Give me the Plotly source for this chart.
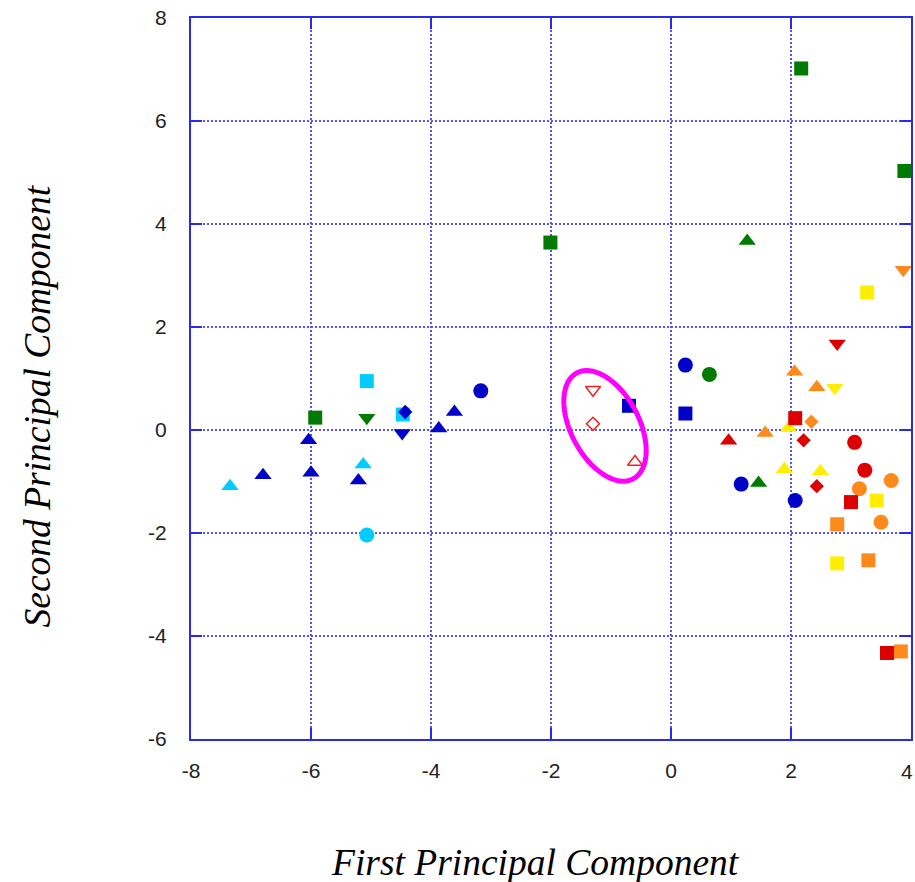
import numpy as np
import plotly.graph_objects as go

# ---------------- data ----------------
# Blue
blue_circle_x = [0.24, 1.17, 2.07, -3.17]
blue_circle_y = [1.26, -1.05, -1.37, 0.76]
blue_square_x = [0.24, -0.70]
blue_square_y = [0.32, 0.47]
blue_tri_x = [-3.61, -3.87, -6.04, -6.00, -5.21, -6.80]
blue_tri_y = [0.35, 0.03, -0.20, -0.83, -0.98, -0.88]
blue_dtri_x = [-4.48]
blue_dtri_y = [-0.06]
blue_diamond_x = [-4.43]
blue_diamond_y = [0.35]
# Cyan
cyan_square_x = [-4.47, -5.07]
cyan_square_y = [0.30, 0.95]
cyan_tri_x = [-5.13, -7.35]
cyan_tri_y = [-0.67, -1.09]
cyan_circle_x = [-5.07]
cyan_circle_y = [-2.04]
# Green
green_square_x = [2.17, 3.89, -2.01, -5.93]
green_square_y = [7.02, 5.03, 3.64, 0.24]
green_tri_x = [1.27, 1.46]
green_tri_y = [3.67, -1.03]
green_circle_x = [0.64]
green_circle_y = [1.08]
green_dtri_x = [-5.07]
green_dtri_y = [0.24]
# Orange
orange_dtri_x = [3.87]
orange_dtri_y = [3.11]
orange_tri_x = [2.06, 2.43, 1.57]
orange_tri_y = [1.13, 0.83, -0.06]
orange_diamond_x = [2.34]
orange_diamond_y = [0.16]
orange_circle_x = [3.67, 3.14, 3.50]
orange_circle_y = [-0.98, -1.14, -1.79]
orange_square_x = [2.77, 3.29, 3.83]
orange_square_y = [-1.83, -2.53, -4.30]
# Yellow
yellow_square_x = [3.27, 3.43, 2.77]
yellow_square_y = [2.67, -1.37, -2.59]
yellow_dtri_x = [2.73]
yellow_dtri_y = [0.82]
yellow_tri_x = [1.96, 1.89, 2.49]
yellow_tri_y = [0.04, -0.76, -0.80]
# Red
red_dtri_x = [2.77]
red_dtri_y = [1.68]
red_square_x = [2.07, 3.00, 3.60]
red_square_y = [0.23, -1.40, -4.33]
red_tri_x = [0.96]
red_tri_y = [-0.21]
red_diamond_x = [2.21, 2.43]
red_diamond_y = [-0.20, -1.09]
red_circle_x = [3.06, 3.23]
red_circle_y = [-0.24, -0.78]
# Red open markers (highlighted group)
open_dtri_x = [-1.30]
open_dtri_y = [0.78]
open_diamond_x = [-1.30]
open_diamond_y = [0.12]
open_tri_x = [-0.60]
open_tri_y = [-0.62]

x_ticks = [-8, -6, -4, -2, 0, 2, 4]
x_tick_text = ["-8", "-6", "-4", "-2", "0", "2", ""]
x_last_label = "4"
y_ticks = [-6, -4, -2, 0, 2, 4, 6, 8]
y_tick_text = ["-6", "-4", "-2", "0", "2", "4", "6", "8"]

# ---------------- style ----------------
BLUE = "#0000c8"
CYAN = "#00ccff"
GREEN = "#007a00"
ORANGE = "#ff8a1c"
YELLOW = "#ffee00"
RED = "#dd0000"
AXIS = "#2a2aee"
GRID = "#5555f2"

SIZES = {"circle": 15, "square": 14, "triangle-up": 15, "triangle-down": 15, "diamond": 11}

fig = go.Figure()


def add(xs, ys, color, symbol):
    fig.add_trace(go.Scatter(
        x=xs, y=ys, mode="markers", showlegend=False, hoverinfo="x+y",
        marker=dict(symbol=symbol, size=SIZES[symbol], color=color,
                    line=dict(width=0)),
    ))


def add_open(xs, ys, symbol, size):
    fig.add_trace(go.Scatter(
        x=xs, y=ys, mode="markers", showlegend=False,
        marker=dict(symbol=symbol + "-open", size=size, color="#ee2222",
                    line=dict(width=1.5, color="#ee2222")),
    ))


add(green_square_x, green_square_y, GREEN, "square")
add(green_tri_x, green_tri_y, GREEN, "triangle-up")
add(green_circle_x, green_circle_y, GREEN, "circle")
add(green_dtri_x, green_dtri_y, GREEN, "triangle-down")
add(cyan_square_x, cyan_square_y, CYAN, "square")
add(cyan_tri_x, cyan_tri_y, CYAN, "triangle-up")
add(cyan_circle_x, cyan_circle_y, CYAN, "circle")
add(blue_circle_x, blue_circle_y, BLUE, "circle")
add(blue_square_x, blue_square_y, BLUE, "square")
add(blue_tri_x, blue_tri_y, BLUE, "triangle-up")
add(blue_dtri_x, blue_dtri_y, BLUE, "triangle-down")
add(blue_diamond_x, blue_diamond_y, BLUE, "diamond")
add(yellow_tri_x, yellow_tri_y, YELLOW, "triangle-up")
add(orange_tri_x, orange_tri_y, ORANGE, "triangle-up")
add(orange_dtri_x, orange_dtri_y, ORANGE, "triangle-down")
add(orange_circle_x, orange_circle_y, ORANGE, "circle")
add(orange_square_x, orange_square_y, ORANGE, "square")
add(yellow_square_x, yellow_square_y, YELLOW, "square")
add(yellow_dtri_x, yellow_dtri_y, YELLOW, "triangle-down")
add(red_dtri_x, red_dtri_y, RED, "triangle-down")
add(red_square_x, red_square_y, RED, "square")
add(red_tri_x, red_tri_y, RED, "triangle-up")
add(orange_diamond_x, orange_diamond_y, ORANGE, "diamond")
add(red_diamond_x, red_diamond_y, RED, "diamond")
add(red_circle_x, red_circle_y, RED, "circle")
add_open(open_dtri_x, open_dtri_y, "triangle-down", 13)
add_open(open_diamond_x, open_diamond_y, "diamond", 10)
add_open(open_tri_x, open_tri_y, "triangle-up", 13)

# ---------------- layout geometry ----------------
W, H = 915, 882
ML, MR, MT, MB = 191, 4, 18, 143
XR = [-8, 4]
YR = [-6, 8]
pw, ph = W - ML - MR, H - MT - MB
sx = (XR[1] - XR[0]) / pw   # data units per pixel
sy = (YR[1] - YR[0]) / ph

# highlight ellipse around the open markers (centre in data units, axes in px)
ell_cx, ell_cy = -1.10, 0.08
ell_a, ell_b, ell_deg = 60, 34, 62
t = np.linspace(0, 2 * np.pi, 121)
th = np.radians(ell_deg)
dx_px = ell_a * np.cos(t) * np.cos(th) - ell_b * np.sin(t) * np.sin(th)
dy_px = ell_a * np.cos(t) * np.sin(th) + ell_b * np.sin(t) * np.cos(th)
ex = ell_cx + dx_px * sx
ey = ell_cy - dy_px * sy
path = "M " + " L ".join(f"{a:.4f},{b:.4f}" for a, b in zip(ex, ey)) + " Z"
fig.add_shape(type="path", path=path, xref="x", yref="y",
              line=dict(color="#ff00ff", width=5))

TICKFONT = dict(family="Liberation Sans, Arial, sans-serif", size=21, color="#222222")
axis_common = dict(
    showline=True, linecolor=AXIS, linewidth=2, mirror="ticks",
    ticks="inside", ticklen=11, tickwidth=2, tickcolor=AXIS,
    showgrid=True, gridcolor=GRID, gridwidth=1.5, griddash="2px,2px",
    zeroline=False, tickfont=TICKFONT, fixedrange=True, automargin=False,
)

fig.update_layout(
    width=W, height=H, autosize=False,
    margin=dict(l=ML, r=MR, t=MT, b=MB, pad=0),
    paper_bgcolor="white", plot_bgcolor="white",
    xaxis=dict(range=XR, tickvals=x_ticks, ticktext=x_tick_text,
               ticklabelstandoff=12, **axis_common),
    yaxis=dict(range=YR, tickvals=y_ticks, ticktext=y_tick_text,
               ticklabelstandoff=18, **axis_common),
    annotations=[
        # last x tick label (at the right edge, kept inside the page)
        dict(text=x_last_label, x=XR[1], xref="x", y=0, yref="paper",
             xanchor="right", yanchor="top", xshift=4, yshift=-19,
             showarrow=False, font=TICKFONT),
        dict(text="<i>First Principal Component</i>", xref="paper", yref="paper",
             x=(535.5 - ML) / pw, y=(H - MB - 862) / ph, xanchor="center", yanchor="middle",
             showarrow=False, font=dict(family="Liberation Serif, Times New Roman, serif",
                                        size=37.5, color="#000000")),
        dict(text="<i>Second Principal Component</i>", xref="paper", yref="paper",
             x=(37 - ML) / pw, y=(H - MB - 406.5) / ph, xanchor="center", yanchor="middle",
             textangle=-90, showarrow=False,
             font=dict(family="Liberation Serif, Times New Roman, serif",
                       size=37.5, color="#000000")),
    ],
)

fig.write_html("out.html")
